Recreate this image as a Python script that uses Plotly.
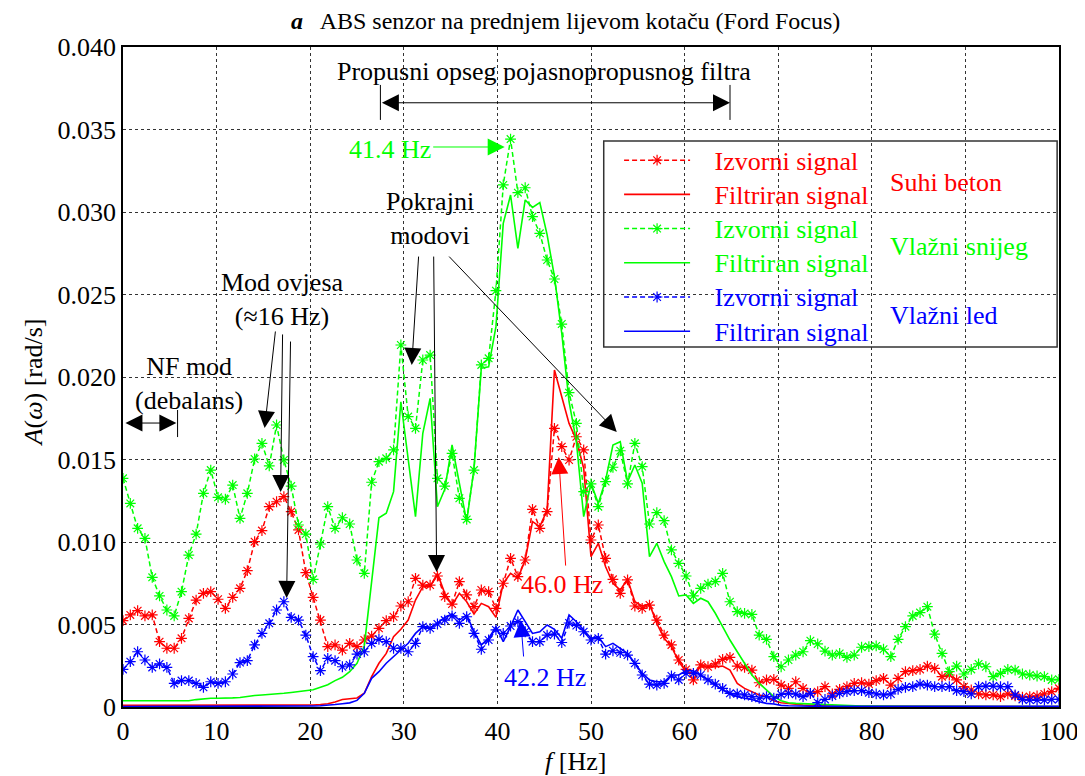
import plotly.graph_objects as go

# frequency bins (FFT resolution)
df = 0.78125
n_bins = 129
freq = [k * df for k in range(n_bins)]

# Suhi beton (red)
red_raw = [0.00523, 0.00558, 0.00584, 0.00552, 0.00558, 0.00396, 0.00356, 0.00356, 0.00416, 0.00537,
           0.00648, 0.00689, 0.00699, 0.00653, 0.00598, 0.00665, 0.00719, 0.00826, 0.01002, 0.01069,
           0.01214, 0.01244, 0.01275, 0.01184, 0.01073, 0.00814, 0.00665, 0.00527, 0.00366, 0.00376,
           0.00345, 0.00386, 0.00366,
           0.00406, 0.0043, 0.00477, 0.00523, 0.00547, 0.00612, 0.00638, 0.0078, 0.00739, 0.00739,
           0.00794, 0.00669, 0.00624, 0.0076, 0.00679, 0.00608, 0.00709, 0.00699, 0.00598, 0.0075,
           0.00901, 0.0079, 0.00891, 0.01198, 0.01083, 0.01184, 0.01689, 0.01578, 0.01497, 0.01638,
           0.01558, 0.01012, 0.01103, 0.00901, 0.00774, 0.00689, 0.0077, 0.00612, 0.00598, 0.00618,
           0.00527, 0.00436, 0.00376, 0.00285, 0.00228, 0.00164, 0.00255, 0.00244, 0.00261, 0.00289,
           0.00301, 0.00248, 0.0024, 0.00224, 0.00147, 0.00164, 0.00168, 0.00133, 0.00113, 0.00153,
           0.00113, 0.00083, 0.00093, 0.00123, 0.00079, 0.00107, 0.00123, 0.00143, 0.00147, 0.00139,
           0.0016, 0.00174, 0.00133, 0.00174, 0.00214, 0.0022, 0.00228, 0.00248, 0.00234, 0.00184,
           0.00194, 0.00164, 0.00123, 0.00103, 0.00079, 0.00073, 0.00073, 0.00063, 0.00079, 0.00067,
           0.00059, 0.00063, 0.00067, 0.00079, 0.00093, 0.00113]
red_filt = [0.0001] * 26 + [0.00012, 0.00015, 0.0002, 0.0003,
            0.00045, 0.0005, 0.00055, 0.00083, 0.00184, 0.00265, 0.00325, 0.00426, 0.00471, 0.00527,
            0.00648, 0.00729, 0.00729, 0.0081, 0.00689, 0.00618, 0.00689, 0.00638, 0.00564, 0.00628,
            0.00608, 0.00543, 0.0075, 0.0081, 0.0078, 0.00891, 0.01123, 0.01093, 0.01194, 0.02042,
            0.01881, 0.01719, 0.01618,
            0.01447, 0.00911, 0.00992, 0.0085, 0.0075, 0.00709, 0.00774, 0.00638, 0.00612, 0.00624,
            0.00507, 0.00416, 0.00366, 0.00275, 0.00214, 0.00204, 0.00244, 0.00241, 0.00244, 0.00248,
            0.00224, 0.00143, 0.00113, 0.00093, 0.00073, 0.00063, 0.00038, 0.00026,
            0.0002, 0.00015, 0.00012, 0.0001, 0.00008, 0.00007, 0.00006, 0.00005, 0.00005] + [0.00004] * 10 + [0.00003] * 19

# Vlazni snijeg (green)
green_raw = [0.01386, 0.01234, 0.01083, 0.01022, 0.00786, 0.00673, 0.00588, 0.00552, 0.00699, 0.00921,
             0.01048, 0.01295, 0.01436, 0.01271, 0.01259, 0.01345, 0.01143, 0.01295, 0.01503, 0.01598,
             0.01461, 0.01709, 0.01497, 0.01339, 0.01103, 0.01048, 0.00774, 0.00988, 0.01214, 0.01083,
             0.01147, 0.01109, 0.00891,
             0.0081, 0.01362, 0.01487, 0.01507, 0.01558, 0.02194, 0.0176, 0.01689, 0.02103, 0.02133,
             0.01386, 0.01339, 0.01537, 0.01265, 0.01137, 0.01436, 0.02073, 0.02113,
             0.02523, 0.03164, 0.03442, 0.03117, 0.03147, 0.02972, 0.02871, 0.02709, 0.02594, 0.02321,
             0.01905, 0.01719,
             0.01305, 0.01352, 0.01214, 0.01366, 0.01453, 0.01553, 0.01352, 0.01598, 0.01457, 0.01109,
             0.01178, 0.01129, 0.00952, 0.00871, 0.00794, 0.00673, 0.00719, 0.00745, 0.0076, 0.0081,
             0.00638, 0.00578, 0.00567, 0.00561, 0.00436, 0.0041, 0.00305, 0.00244, 0.00285, 0.00315,
             0.00335, 0.00402, 0.00382, 0.00339, 0.00315, 0.00325, 0.00301, 0.00315, 0.00362, 0.00366,
             0.0037, 0.0035, 0.00305, 0.0041, 0.00487, 0.00552, 0.00572, 0.00608, 0.00442, 0.00325,
             0.00214, 0.00248, 0.002, 0.00228, 0.00261, 0.00244, 0.00184, 0.00204, 0.00228, 0.00224,
             0.002, 0.00194, 0.00188, 0.00184, 0.00164, 0.00168]
green_filt = [0.00038] * 10 + [0.00045, 0.0005, 0.00053, 0.00053, 0.00053, 0.00055, 0.00058, 0.00065,
              0.0007, 0.00073, 0.00075, 0.0008, 0.00083, 0.00088, 0.00093, 0.00098, 0.00105, 0.0012,
              0.00135, 0.0016, 0.0018, 0.00214, 0.00265,
              0.0037, 0.0077, 0.01147, 0.01174, 0.01305, 0.0185, 0.01497, 0.01154, 0.01659, 0.01871,
              0.01214, 0.01319, 0.01588, 0.01366, 0.01123, 0.01447, 0.02053, 0.02062,
              0.02305, 0.02931, 0.03103, 0.0278, 0.03073, 0.03028, 0.03057, 0.02861, 0.02608, 0.02265,
              0.0185, 0.01608, 0.01154, 0.01356, 0.01234, 0.01376, 0.01588, 0.01608, 0.01366, 0.01467,
              0.01356, 0.00911, 0.00992, 0.00881, 0.0079, 0.00673, 0.00679, 0.00628, 0.00659, 0.00638,
              0.00568, 0.00487, 0.00406, 0.00335, 0.00265, 0.00194, 0.00143, 0.00103, 0.00063, 0.00038,
              0.00026, 0.00022,
              0.0002, 0.00017, 0.00014, 0.00012, 0.0001, 0.00009, 0.00008, 0.00007, 0.00006, 0.00006,
              0.00005, 0.00005, 0.00005, 0.00005, 0.00004, 0.00004, 0.00004, 0.00004, 0.00004] + [0.00003] * 17

# Vlazni led (blue)
blue_raw = [0.00228, 0.00275, 0.00335, 0.00285, 0.0024, 0.00261, 0.0024, 0.00143, 0.0016, 0.0016,
            0.00143, 0.00119, 0.00153, 0.00143, 0.00153, 0.002, 0.00269, 0.00281, 0.00376, 0.00446,
            0.00507, 0.00588, 0.00638, 0.00543, 0.00527, 0.00436, 0.00305, 0.0022, 0.00295, 0.00281,
            0.00244, 0.00255, 0.00321,
            0.00335, 0.00386, 0.0041, 0.00396, 0.00356, 0.00356, 0.00335, 0.00386, 0.00487, 0.00477,
            0.00503, 0.00527, 0.00552, 0.00507, 0.00547, 0.00446, 0.0035, 0.00406, 0.00467, 0.00446,
            0.00491, 0.00517, 0.00456, 0.00396, 0.00396, 0.00436, 0.00442, 0.00391, 0.00509, 0.00494,
            0.00456, 0.00406, 0.00416, 0.00321, 0.00341, 0.00329, 0.00315, 0.00265, 0.00194, 0.00139,
            0.00133, 0.00143, 0.00188, 0.00164, 0.00204, 0.00204, 0.00194, 0.00164, 0.00139, 0.00113,
            0.00083, 0.0008, 0.00073, 0.00063, 0.00053, 0.00063, 0.00053, 0.00076, 0.00083, 0.00078,
            0.00063, 0.00083, 0.00026, 0.00046, 0.00067, 0.00083, 0.00093, 0.00099, 0.00099, 0.00087,
            0.00079, 0.00073, 0.00079, 0.00107, 0.00119, 0.00123, 0.00139, 0.00133, 0.00123, 0.00123,
            0.00123, 0.00099, 0.00093, 0.00079, 0.00123, 0.00127, 0.00127, 0.00123, 0.00123, 0.00073,
            0.00046, 0.00042, 0.00042, 0.00042, 0.00046, 0.00046]
blue_filt = [0.00003] * 25 + [0.00005, 0.00006, 0.00008, 0.0001, 0.00015,
             0.0002, 0.00025, 0.0004, 0.00083, 0.00174, 0.00214, 0.00265, 0.00305, 0.00345, 0.00386,
             0.00446, 0.00487, 0.00477, 0.00511, 0.00543, 0.00564, 0.00527, 0.00558, 0.00456, 0.00376,
             0.00416, 0.00487, 0.00396, 0.00487, 0.00588, 0.00517, 0.00446, 0.00456, 0.00497, 0.00471,
             0.00416, 0.00558, 0.00517,
             0.00466, 0.00416, 0.00426, 0.00366, 0.00386, 0.00356, 0.00325, 0.00265, 0.00204, 0.00164,
             0.00153, 0.00153, 0.00194, 0.00194, 0.0022, 0.0022, 0.00194, 0.00164, 0.00133, 0.00103,
             0.0008, 0.00063, 0.00053, 0.00046, 0.00032, 0.00022, 0.00018, 0.0001,
             0.00008, 0.00006] + [0.00005] * 36

for s in (red_raw, red_filt, green_raw, green_filt, blue_raw, blue_filt):
    assert len(s) == n_bins, len(s)

yticks = [0, 0.005, 0.01, 0.015, 0.02, 0.025, 0.03, 0.035, 0.04]
yticklabels = ["0", "0.005", "0.010", "0.015", "0.020", "0.025", "0.030", "0.035", "0.040"]
xticks = [0, 10, 20, 30, 40, 50, 60, 70, 80, 90, 100]

RED, GREEN, BLUE = '#ff0000', '#00ff00', '#0000ff'
FONT = 'Liberation Serif'

fig = go.Figure()
series = [
    ('Izvorni signal', red_raw, RED, True),
    ('Filtriran signal', red_filt, RED, False),
    ('Izvorni signal', green_raw, GREEN, True),
    ('Filtriran signal', green_filt, GREEN, False),
    ('Izvorni signal', blue_raw, BLUE, True),
    ('Filtriran signal', blue_filt, BLUE, False),
]
for name, vals, col, raw in series:
    # legend text: own colour, drawn at 26px while rows are spaced as for 24px
    label = '<span style="color:%s;font-size:26px">\u2002\u2005%s</span>' % (col, name)
    if raw:
        fig.add_trace(go.Scatter(x=freq, y=vals, name=label, mode='lines+markers',
                                 line=dict(color=col, width=1.5, dash='5px,3px'),
                                 marker=dict(symbol='asterisk-open', size=9, line=dict(color=col, width=1.2))))
    else:
        fig.add_trace(go.Scatter(x=freq, y=vals, name=label, mode='lines',
                                 line=dict(color=col, width=1.6)))

def arrow(x, y, ax, ay, color='black', both=False):
    fig.add_annotation(x=x, y=y, ax=ax, ay=ay, xref='x', yref='y', axref='x', ayref='y',
                       text='', showarrow=True, arrowhead=2, arrowsize=3.4, arrowwidth=1,
                       arrowcolor=color, arrowside='end+start' if both else 'end')

def label(x, y, text, color='black', xanchor='center', size=26):
    fig.add_annotation(x=x, y=y, xref='x', yref='y', text=text, showarrow=False,
                       font=dict(family=FONT, size=size, color=color), xanchor=xanchor, yanchor='middle')

# pass band of the filter
arrow(64.85, 0.03662, 27.5, 0.03662, both=True)
for xb in (27.5, 64.85):
    fig.add_shape(type='line', x0=xb, x1=xb, y0=0.03558, y1=0.0377, xref='x', yref='y',
                  line=dict(color='black', width=1))
label(45.0, 0.0385, 'Propusni opseg pojasnopropusnog filtra')

# low-frequency mode
arrow(5.7, 0.01721, 0.1, 0.01721, both=True)
fig.add_shape(type='line', x0=5.83, x1=5.83, y0=0.01636, y1=0.018, xref='x', yref='y',
              line=dict(color='black', width=1))
label(7.1, 0.0196, 'NF mod<br>(debalans)')

# suspension mode
label(17.05, 0.0247, 'Mod ovjesa<br>(≈16 Hz)')
arrow(15.13, 0.01691, 16.3, 0.02285)
arrow(16.84, 0.01303, 17.05, 0.02267)
arrow(17.48, 0.00661, 17.9, 0.02224)

# lateral modes
label(32.8, 0.0296, 'Pokrajni<br>modovi')
arrow(30.85, 0.02073, 31.59, 0.02739)
arrow(33.51, 0.00818, 33.19, 0.02739)
arrow(52.75, 0.01667, 34.69, 0.02739)

# peak labels
label(28.5, 0.0338, '41.4 Hz', GREEN)
arrow(40.78, 0.03394, 32.98, 0.03394, GREEN)
label(46.9, 0.0074, '46.0 Hz', RED)
arrow(46.55, 0.01515, 47.3, 0.00848, RED)
label(45.05, 0.0018, '42.2 Hz', BLUE)
arrow(42.49, 0.00527, 42.81, 0.00297, BLUE)

# surface names next to legend
label(81.7, 0.0318, 'Suhi beton', RED, 'left')
label(81.7, 0.0279, 'Vlažni snijeg', GREEN, 'left')
label(81.7, 0.0237, 'Vlažni led', BLUE, 'left')

# legend frame
fig.add_shape(type='rect', xref='paper', yref='paper', x0=0.5136, x1=0.998, y0=0.5455, y1=0.8576,
              line=dict(color='#333333', width=1.5), fillcolor='white', layer='below')

# title and axis titles
fig.add_annotation(x=0.473, y=1.040, xref='paper', yref='paper', showarrow=False,
                   xanchor='center', yanchor='middle',
                   text='<b><i>a</i></b>\u2002 ABS senzor na prednjem lijevom kotaču (Ford Focus)',
                   font=dict(family=FONT, size=24, color='black'))
fig.add_annotation(x=-0.096, y=0.492, xref='paper', yref='paper', showarrow=False, textangle=-90,
                   xanchor='center', yanchor='middle',
                   text='<i>A</i>(<i>ω</i>) [rad/s]', font=dict(family=FONT, size=26, color='black'))
fig.add_annotation(x=0.4837, y=-0.0833, xref='paper', yref='paper', showarrow=False,
                   xanchor='center', yanchor='middle',
                   text='<i>f</i> [Hz]', font=dict(family=FONT, size=26, color='black'))

# margins compensate the 8px page margin of the html body
fig.update_layout(
    width=1085, height=776,
    margin=dict(l=115, r=34, t=39, b=77),
    paper_bgcolor='white', plot_bgcolor='white',
    font=dict(family=FONT, size=26, color='black'),
    showlegend=True,
    legend=dict(x=0.530, y=0.862, xanchor='left', yanchor='top', bgcolor='rgba(0,0,0,0)',
                borderwidth=0, itemwidth=66, tracegroupgap=0,
                font=dict(family=FONT, size=24)),
)
fig.update_xaxes(range=[0, 100], tickvals=xticks, showgrid=True, gridcolor='#333333', griddash='dot',
                 gridwidth=1, showline=True, linecolor='black', linewidth=1.5, mirror=True,
                 ticks='', zeroline=False, tickfont=dict(family=FONT, size=26))
fig.update_yaxes(range=[0, 0.04], tickvals=yticks, ticktext=yticklabels, showgrid=True,
                 gridcolor='#333333', griddash='dot', gridwidth=1, showline=True, linecolor='black',
                 linewidth=1.5, mirror=True, ticks='', zeroline=False, tickfont=dict(family=FONT, size=26))

fig.write_html("out.html")
